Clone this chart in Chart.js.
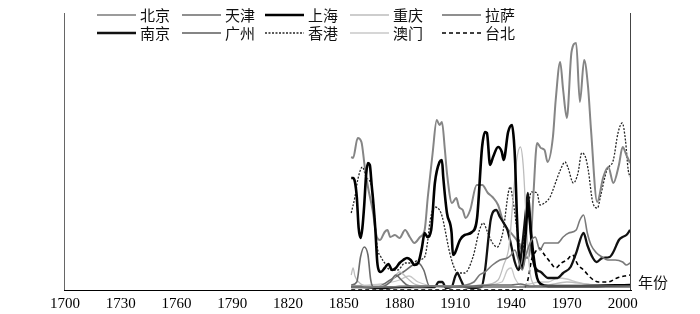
<!DOCTYPE html>
<html>
<head>
<meta charset="utf-8">
<script src="https://cdn.jsdelivr.net/npm/chart.js@4.4.0/dist/chart.umd.min.js"></script>
<style>
  html, body { margin: 0; padding: 0; background: #fff; }
</style>
</head>
<body>
<canvas id="cityChart" width="700" height="314"></canvas>
<script>
// x axis ticks
const tickYears = [1700, 1730, 1760, 1790, 1820, 1850, 1880, 1910, 1940, 1970, 2000];

// series, [year, value] (arbitrary units, 0-277)
const beijing = [[1854,3],[1870,3],[1890,4],[1910,4],[1920,8],[1923,15],[1926,18],[1930,25],[1934,30],[1938,32],[1940,35],[1942,40],[1944,30],[1946,20],[1948,35],[1951,50],[1953,53],[1955.5,40],[1958,47],[1962,47],[1965,47],[1968,53],[1971,57],[1975,60],[1977,70],[1979,75],[1981,57],[1983,45],[1986,37],[1989,33],[1992,30],[1996,30],[2000,28],[2002,25],[2004,27]];
const tianjin = [[1854,5],[1857,8],[1859,33],[1861,43],[1863,35],[1864.5,10],[1866,3],[1870,3],[1875,8],[1878,15],[1881,10],[1884,5],[1890,3],[1900,4],[1910,3],[1920,4],[1930,5],[1940,5],[1945,6],[1950,4],[1960,4],[1980,4],[2004,4]];
const shanghai = [[1854,112],[1855,112],[1856,108],[1857,93],[1858,62],[1859,52],[1860,62],[1861,85],[1862,115],[1863,127],[1864,125],[1865,105],[1866,85],[1867,60],[1868,28],[1869,19],[1870,18],[1872,22],[1874,26],[1876,20],[1878,22],[1880,27],[1882,30],[1884,32],[1886,30],[1888,25],[1890,27],[1892,42],[1893.5,57],[1895,53],[1897,60],[1899,107],[1901.5,128],[1902.8,130],[1903.5,113],[1905.5,77],[1908,57],[1908.7,35],[1909.8,37],[1912.5,50],[1915,55],[1919,58],[1921.7,72],[1924.4,143],[1926,158],[1927,157],[1928.7,125],[1930.3,133],[1933,143],[1935,138],[1936,130],[1938.4,158],[1940.5,165],[1941.5,150],[1942.2,127],[1943,80],[1944,40],[1946,22],[1948,60],[1949,87],[1950,70],[1952,35],[1954,12],[1956,6],[1960,4],[1980,4],[2004,5]];
const chongqing = [[1854,15],[1855,22],[1856,14],[1858,8],[1862,4],[1870,4],[1876,10],[1880,18],[1884,12],[1888,6],[1895,4],[1905,4],[1915,4],[1925,5],[1933,10],[1936,25],[1939,45],[1941,90],[1943,130],[1945,143],[1946.5,125],[1948,75],[1949.5,30],[1951,10],[1954,4],[1960,5],[1970,8],[1980,6],[1990,4],[2004,4]];
const lasa = [[1854,3],[1868,3],[1875,10],[1882,18],[1890,27],[1893,20],[1896,4],[1910,3],[1930,3],[1950,3],[2004,3]];
const nanjing = [[1854,3],[1860,3],[1870,2],[1880,3],[1890,3],[1899,3],[1901,8],[1903,8],[1905,2],[1908,3],[1910,14],[1911,17],[1913,10],[1915,3],[1920,2],[1924,3],[1926,20],[1928,55],[1929,70],[1930,77],[1932,80],[1934,73],[1936,67],[1938,60],[1940,45],[1942,28],[1944,20],[1946,45],[1948,80],[1949,97],[1950,78],[1951,45],[1952,28],[1954,20],[1956,18],[1960,12],[1965,12],[1968,17],[1972,23],[1975,37],[1979,57],[1981,45],[1984,32],[1986,28],[1989,32],[1993,33],[1995,38],[1998,50],[2000,53],[2002,55],[2004,60]];
const guangzhou = [[1854,133],[1855,132],[1857.5,152],[1859.5,148],[1861.3,123],[1863,103],[1865.5,80],[1867.8,53],[1869.5,50],[1872,58],[1873.5,60],[1875,53],[1877.5,55],[1880,52],[1883,60],[1885.5,53],[1888,47],[1891,53],[1893.5,60],[1895.2,93],[1897.8,137],[1900,170],[1901.5,165],[1902.8,168],[1904.4,140],[1905.5,117],[1908.2,87],[1910.5,92],[1912,83],[1914,80],[1915.5,72],[1918,80],[1921.5,105],[1924.5,105],[1927.5,97],[1930,93],[1933,85],[1936,67],[1940,57],[1943,50],[1946,40],[1948.5,32],[1950.5,45],[1952,95],[1954,147],[1956,142],[1958,140],[1959.6,128],[1962.5,153],[1964,190],[1966.4,228],[1968,200],[1970,172],[1972.5,238],[1975,247],[1977,188],[1979.3,230],[1981.4,203],[1983,160],[1986.3,88],[1989.6,113],[1992.3,123],[1995,107],[1998,125],[2000,143],[2002,135],[2004,127]];
const hongkong = [[1854,77],[1856,93],[1857.5,110],[1860,123],[1862,113],[1865,103],[1866,85],[1868,43],[1870,33],[1872,27],[1875,20],[1879,20],[1883,27],[1887,27],[1890,30],[1893.5,33],[1895,47],[1896.5,70],[1899,83],[1901.5,80],[1903,73],[1904.5,60],[1907,37],[1910,20],[1912.5,17],[1915,17],[1919.5,33],[1923,60],[1925,67],[1927.5,57],[1930,47],[1932.5,43],[1935.5,57],[1939.5,103],[1941,90],[1943.5,57],[1946,40],[1948.5,75],[1951,98],[1954,97],[1955.5,85],[1958,87],[1961,93],[1962.5,100],[1966.5,120],[1969,128],[1970.5,123],[1973.5,107],[1976,117],[1978,137],[1980,133],[1981.5,120],[1984,87],[1986.5,82],[1988,93],[1991.5,120],[1995,130],[1997.5,157],[1999.8,167],[2001.5,150],[2003,120],[2004,113]];
const macau = [[1854,4],[1870,6],[1880,10],[1885,14],[1890,8],[1900,4],[1920,4],[1935,8],[1938,20],[1940,22],[1942,12],[1945,5],[1950,6],[1955,8],[1960,8],[1965,12],[1970,11],[1975,8],[1980,6],[1990,5],[2004,5]];
const taipei = [[1854,0],[1946,0],[1949,10],[1951,30],[1953,38],[1955,42],[1958,35],[1961,28],[1964,22],[1967,27],[1970,30],[1973,35],[1976,25],[1979,20],[1983,12],[1987,8],[1992,8],[1997,12],[2001,14],[2004,15]];

const cityNames = ["北京", "天津", "上海", "重庆", "拉萨", "南京", "广州", "香港", "澳门", "台北"];
const citySeries = [beijing, tianjin, shanghai, chongqing, lasa, nanjing, guangzhou, hongkong, macau, taipei];

// line looks for each city (same order as names)
const lineStyles = [
  { color: "#7a7a7a", width: 1.6, dash: [] },
  { color: "#6a6a6a", width: 1.6, dash: [] },
  { color: "#000000", width: 2.6, dash: [] },
  { color: "#bdbdbd", width: 1.3, dash: [] },
  { color: "#6a6a6a", width: 1.6, dash: [] },
  { color: "#111111", width: 2.3, dash: [] },
  { color: "#858585", width: 2, dash: [] },
  { color: "#262626", width: 1.3, dash: [2, 1.5] },
  { color: "#c8c8c8", width: 1.3, dash: [] },
  { color: "#000000", width: 1.6, dash: [4, 3] },
];

const legendX = [97, 182, 265, 350, 442];
const legendY = [15, 33];

// legend, side borders and axis title drawn by hand
const framePlugin = {
  id: "frame",
  afterDraw(chart) {
    const ctx = chart.ctx;
    const area = chart.chartArea;
    ctx.save();

    ctx.lineWidth = 1;
    ctx.strokeStyle = "#666";
    ctx.beginPath();
    ctx.moveTo(area.left + 0.5, 13);
    ctx.lineTo(area.left + 0.5, area.bottom);
    ctx.stroke();
    ctx.strokeStyle = "#444";
    ctx.beginPath();
    ctx.moveTo(area.right - 0.5, 13);
    ctx.lineTo(area.right - 0.5, area.bottom);
    ctx.stroke();

    chart.data.datasets.forEach((ds, i) => {
      const x = legendX[i % 5];
      const y = legendY[Math.floor(i / 5)];
      ctx.strokeStyle = ds.borderColor;
      ctx.lineWidth = ds.borderWidth;
      ctx.setLineDash(ds.borderDash);
      ctx.beginPath();
      ctx.moveTo(x, y);
      ctx.lineTo(x + 39, y);
      ctx.stroke();
      ctx.setLineDash([]);
      ctx.fillStyle = "#111";
      ctx.font = '15px "Noto Sans CJK SC"';
      ctx.textBaseline = "middle";
      ctx.fillText(ds.label, x + 43, y);
    });

    ctx.fillStyle = "#111";
    ctx.font = '15px "Noto Sans CJK SC"';
    ctx.textBaseline = "middle";
    ctx.fillText("年份", 638, 282);
    ctx.restore();
  },
};

const ctx = document.getElementById("cityChart").getContext("2d");

new Chart(ctx, {
  type: "line",
  data: {
    datasets: cityNames.map((name, i) => ({
      label: name,
      data: citySeries[i].map(([x, y]) => ({ x, y })),
      borderColor: lineStyles[i].color,
      borderWidth: lineStyles[i].width,
      borderDash: lineStyles[i].dash,
      pointRadius: 0,
      fill: false,
      cubicInterpolationMode: "monotone",
    })),
  },
  options: {
    responsive: false,
    animation: false,
    layout: { padding: { left: 64, right: 69, top: 13, bottom: 0 } },
    plugins: { legend: { display: false }, tooltip: { enabled: false } },
    scales: {
      x: {
        type: "linear",
        min: 1699.5,
        max: 2004.5,
        afterBuildTicks: (scale) => {
          scale.ticks = tickYears.map((v) => ({ value: v }));
        },
        afterFit: (scale) => {
          scale.height = 24;
        },
        grid: { display: false, drawTicks: false },
        border: { display: true, color: "#000", width: 1 },
        ticks: {
          autoSkip: false,
          maxRotation: 0,
          padding: 5,
          color: "#000",
          font: { family: "Liberation Serif", size: 15 },
          callback: (v) => String(v),
        },
      },
      y: { display: false, min: 0, max: 277 },
    },
  },
  plugins: [framePlugin],
});
</script>
</body>
</html>
